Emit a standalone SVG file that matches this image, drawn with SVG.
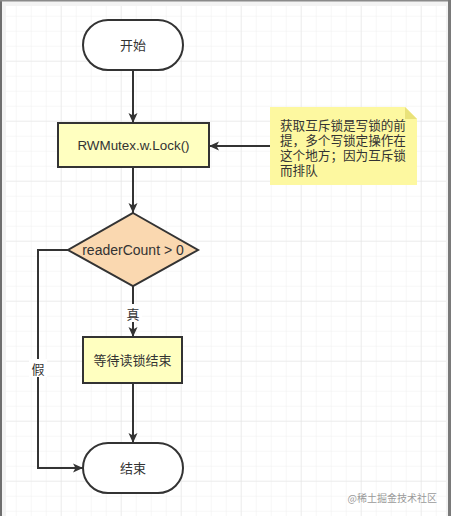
<svg xmlns="http://www.w3.org/2000/svg" width="451" height="516" viewBox="0 0 451 516">
  <defs>
    <pattern id="minor" x="1.7" y="1.7" width="15" height="15" patternUnits="userSpaceOnUse">
      <path d="M15 0 V15 M0 15 H15" fill="none" stroke="#eeeeee" stroke-width="1"/>
    </pattern>
    <pattern id="major" x="1.7" y="1.7" width="60" height="60" patternUnits="userSpaceOnUse">
      <path d="M60 0 V60 M0 60 H60" fill="none" stroke="#e2e2e2" stroke-width="1"/>
    </pattern>
    <marker id="arrow" viewBox="0 0 10 10" refX="10" refY="5" markerWidth="10" markerHeight="10" markerUnits="userSpaceOnUse" orient="auto">
      <path d="M0 0.5 L10 5 L0 9.5 L2.5 5 Z" fill="#333333"/>
    </marker>
  </defs>
  <style>
    .node { stroke: #333333; stroke-width: 2; }
    .txt { font-family: "Liberation Sans", "Noto Sans CJK SC", sans-serif; font-size: 13px; fill: #333333; text-anchor: middle; dominant-baseline: central; }
    .note { font-family: "Noto Sans CJK SC", sans-serif; font-size: 12.6px; fill: #333333; }
    .edge { fill: none; stroke: #333333; stroke-width: 2; }
    .lbl { font-family: "Noto Sans CJK SC", sans-serif; font-size: 13px; fill: #333333; text-anchor: middle; dominant-baseline: central; }
  </style>

  <!-- background and frame -->
  <rect x="0" y="0" width="451" height="516" fill="#f3f3f3"/>
  <rect x="6" y="6" width="440" height="510" fill="#ffffff"/>
  <rect x="6" y="6" width="440" height="510" fill="url(#minor)"/>
  <rect x="6" y="6" width="440" height="510" fill="url(#major)"/>
  <rect x="0" y="0" width="2" height="516" fill="#6e6e6e"/>
  <rect x="0" y="0" width="451" height="1.5" fill="#8a8a8a"/>
  <rect x="448" y="0" width="3" height="516" fill="#7a7a7a"/>

  <!-- connectors -->
  <g id="connectors">
    <path class="edge" d="M133 70 V123" marker-end="url(#arrow)"/>
    <path class="edge" d="M133 167 V213" marker-end="url(#arrow)"/>
    <path class="edge" d="M133 286 V337" marker-end="url(#arrow)"/>
    <path class="edge" d="M133 383 V443" marker-end="url(#arrow)"/>
    <path class="edge" d="M68 250 H38 V468 H83" marker-end="url(#arrow)"/>
    <path class="edge" d="M270 146 H209" marker-end="url(#arrow)"/>
    <rect x="124" y="304" width="18" height="18" fill="#ffffff"/>
    <text class="lbl" x="133" y="313">真</text>
    <rect x="29" y="359" width="18" height="18" fill="#ffffff"/>
    <text class="lbl" x="38" y="368">假</text>
  </g>

  <g id="start">
    <rect class="node" x="83" y="20" width="100" height="50" rx="25" ry="25" fill="#ffffff"/>
    <text class="txt" x="133" y="45">开始</text>
  </g>

  <g id="lock">
    <rect class="node" x="58" y="123" width="151" height="44" fill="#ffffc0"/>
    <text class="txt" x="133.5" y="145" style="font-size:13.4px">RWMutex.w.Lock()</text>
  </g>

  <g id="note">
    <path d="M270 107 H405 L417 119 V185 H270 Z" fill="#fdf8a0"/>
    <path d="M405 107 L417 119 H405 Z" fill="#e9e27a"/>
    <text class="note" x="280" y="130"><tspan x="280" y="130">获取互斥锁是写锁的前</tspan><tspan x="280" y="145">提，多个写锁定操作在</tspan><tspan x="280" y="160">这个地方；因为互斥锁</tspan><tspan x="280" y="175">而排队</tspan></text>
  </g>

  <g id="decision">
    <path class="node" d="M133 213 L198 250 L133 286 L68 250 Z" fill="#fad8b0"/>
    <text class="txt" x="133" y="250" style="font-size:14px">readerCount &gt; 0</text>
  </g>

  <g id="wait">
    <rect class="node" x="83" y="337" width="99" height="46" fill="#ffffc0"/>
    <text class="txt" x="132.5" y="360">等待读锁结束</text>
  </g>

  <g id="end">
    <rect class="node" x="83" y="443" width="100" height="50" rx="25" ry="25" fill="#ffffff"/>
    <text class="txt" x="133" y="468">结束</text>
  </g>

  <text x="437" y="497" font-family="Noto Sans CJK SC, sans-serif" font-size="10px" fill="#9a9a9a" text-anchor="end" dominant-baseline="central">@稀土掘金技术社区</text>
</svg>
